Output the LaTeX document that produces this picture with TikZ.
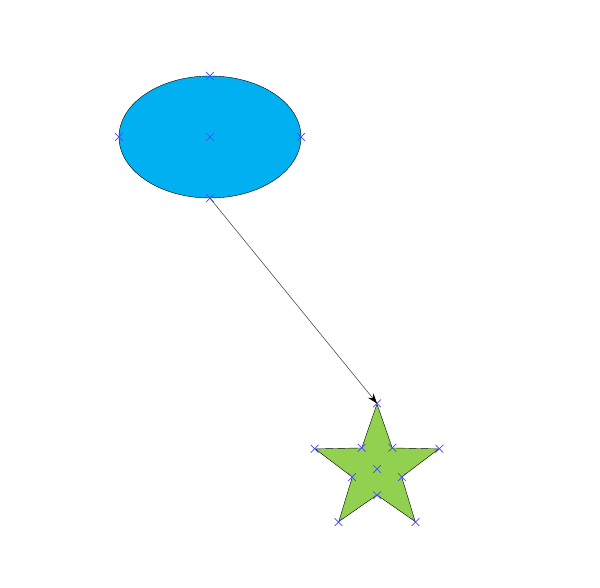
\documentclass[tikz,border=0pt]{standalone}
\usepackage{tikz}
\usetikzlibrary{arrows,arrows.meta,shapes.geometric,shapes.misc}

\begin{document}
\begin{tikzpicture}[x=1pt, y=-1pt, inner sep=0pt]

    \tikzstyle{blob}=[ellipse, fill={rgb,255:red,0;green,176;blue,240}, draw=black, minimum width=182pt, minimum height=122pt] \tikzstyle{starry}=[star, star points=5, star point ratio=2.5, minimum size=130pt, fill={rgb,255:red,146;green,208;blue,80}, draw=black] \tikzstyle{xmark}=[cross out, draw={rgb,255:red,70;green,70;blue,255}, minimum size=7pt, line width=0.7pt] \tikzstyle{link}=[-{Stealth[length=10pt,width=7pt,color=black]}, draw={rgb,255:red,80;green,80;blue,80}, semithick]

    \useasboundingbox (0,0) rectangle (600,588);

    \node[blob] (E) at (210,137) {};
    \node[starry] (S) at (377,469) {};

    % anchor marks
    \foreach \a in {north,south,east,west,center} \node[xmark] at (E.\a) {};
    \foreach \i in {1,...,5} {\node[xmark] at (S.outer point \i) {}; \node[xmark] at (S.inner point \i) {};}
    \node[xmark] at (S.center) {};

    \draw[link] (E.south) to (S.outer point 1) ;
  \end{tikzpicture}
\end{document}
